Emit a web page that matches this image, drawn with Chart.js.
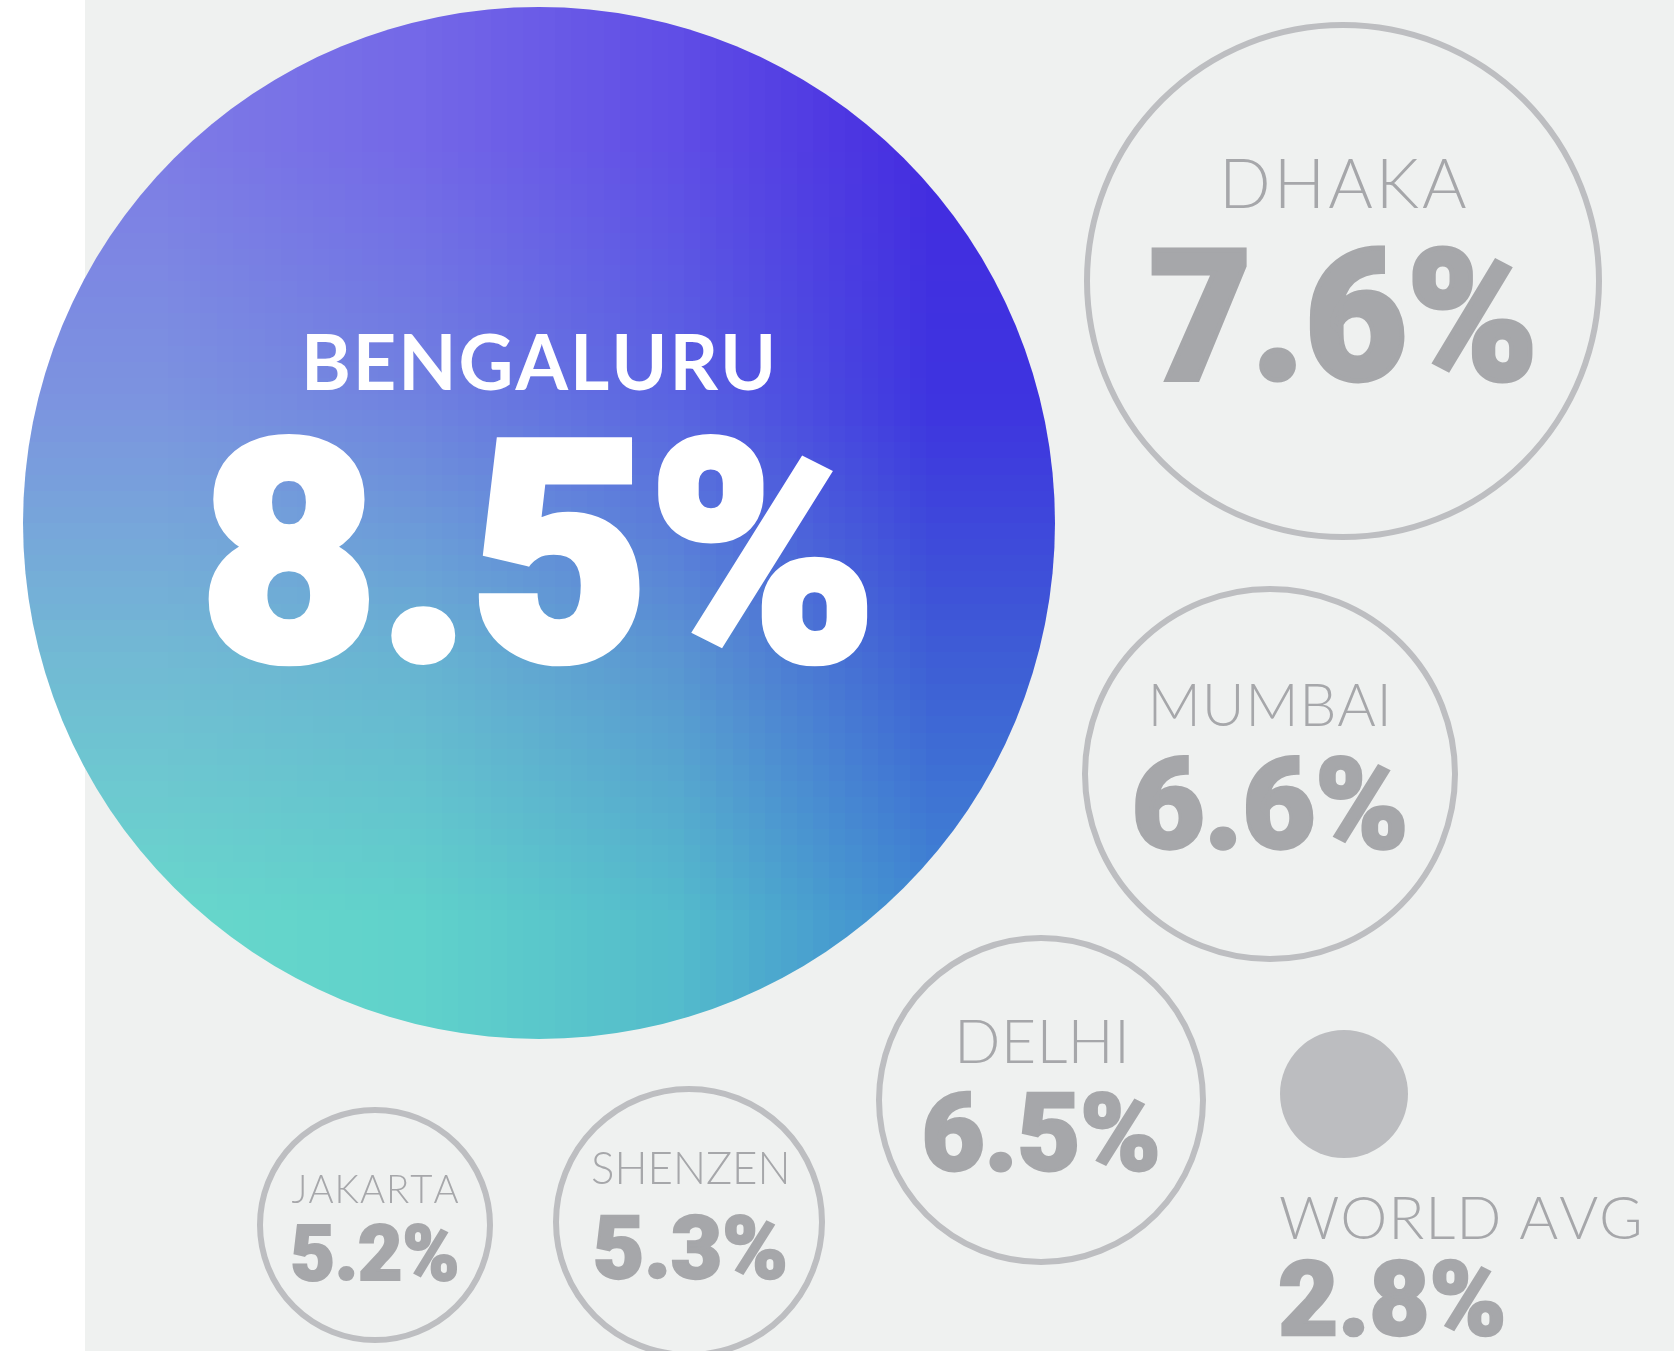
<!DOCTYPE html>
<html>
<head>
<meta charset="utf-8">
<title>Economic growth by city</title>
<script src="https://cdn.jsdelivr.net/npm/chart.js@4.4.1/dist/chart.umd.min.js"></script>
<style>
  html, body { margin: 0; padding: 0; background: #ffffff; }
  canvas { display: block; }
</style>
</head>
<body>
<canvas id="chart" width="1674" height="1351"></canvas>
<script>
// data
const cities = ['BENGALURU', 'DHAKA', 'MUMBAI', 'DELHI', 'SHENZEN', 'JAKARTA', 'WORLD AVG'];
const growth = [8.5, 7.6, 6.6, 6.5, 5.3, 5.2, 2.8];

// layout of the bubbles (infographic placement, in canvas units)
const layoutX = [539, 1343, 1270, 1041, 689, 375, 1344];
const layoutY = [523, 281, 774, 1100, 1222, 1225, 1094];
const layoutR = [516, 256, 185, 162, 133, 115, 64];

// text boxes relative to bubble centre: [dx, dy, width, height]
const labelBox = [
  [0, -162, 464, 56], [3, -98, 240, 49], [0, -69, 233, 43], [1, -58, 164, 44],
  [0, -54, 194, 33], [0, -36, 167, 28], [-64, 125, 359, 44]
];
const valueBox = [
  [-2, 23, 663, 232], [-1, 32, 382, 137], [0, 28, 270, 96], [0, 31, 233, 81],
  [1, 25, 190, 66], [0, 27, 165, 59], [-64, 204, 224, 78]
];

const RING = '#bdbec1';
const TEXT_GREY = '#a6a7aa';
const LABEL_FONT = 'Lato, Inter, "Open Sans", sans-serif';
const VALUE_FONT = 'Roboto, Inter, Lato, sans-serif';
const glowGrid = [
  ['#7e7ce6', '#7468e8', '#604ee6', '#442ce0'],
  ['#7c94e0', '#7082e0', '#5a64e2', '#3e34e0'],
  ['#72bad4', '#68b4d2', '#5a96d2', '#3e5ed6'],
  ['#68d8cc', '#60d2cb', '#54bccc', '#4088d2']
];

let glowPattern = null;
function makeGlow(chart, cx, cy, r) {
  const grid = document.createElement('canvas');
  grid.width = 4; grid.height = 4;
  const g = grid.getContext('2d');
  glowGrid.forEach((row, j) => row.forEach((c, i) => { g.fillStyle = c; g.fillRect(i, j, 1, 1); }));
  const off = document.createElement('canvas');
  off.width = chart.width; off.height = chart.height;
  const o = off.getContext('2d');
  o.imageSmoothingEnabled = true;
  o.imageSmoothingQuality = 'low';
  o.drawImage(grid, cx - r, cy - r, r * 2, r * 2);
  return chart.ctx.createPattern(off, 'no-repeat');
}

function bubbleFill(ctx) {
  const i = ctx.dataIndex;
  if (i === 6) return '#bcbdc0';
  if (i !== 0) return 'rgba(0,0,0,0)';
  const chart = ctx.chart;
  if (!chart.chartArea || !chart.scales.x) return '#6c8ee0';
  if (!glowPattern) {
    const cx = chart.scales.x.getPixelForValue(layoutX[0]);
    const cy = chart.scales.y.getPixelForValue(layoutY[0]);
    glowPattern = makeGlow(chart, cx, cy, layoutR[0]);
  }
  return glowPattern;
}

// draw text char by char so it fills a box of given width / glyph height
// thick > 0 adds an outline of that width to make the glyphs heavier
function fitText(ctx, text, family, weight, color, left, cy, w, h, spaced, thick) {
  const lw = thick || 0;
  const gh = h - lw, gw = w - lw;
  ctx.font = `${weight} 100px ${family}`;
  const m = ctx.measureText(text);
  const size = 100 * gh / (m.actualBoundingBoxAscent + m.actualBoundingBoxDescent);
  ctx.font = `${weight} ${size}px ${family}`;
  const mm = ctx.measureText(text);
  const chars = [...text];
  const widths = chars.map(c => ctx.measureText(c).width);
  const firstL = ctx.measureText(chars[0]).actualBoundingBoxLeft;
  const lastR = ctx.measureText(chars[chars.length - 1]).actualBoundingBoxRight;
  const natural = firstL + widths.slice(0, -1).reduce((s, v) => s + v, 0) + lastR;
  let gap = 0, sx = 1;
  if (spaced && chars.length > 1) gap = (gw - natural) / (chars.length - 1);
  if (!spaced || gap < 0) { gap = 0; sx = gw / natural; }
  const baseY = cy - gh / 2 + mm.actualBoundingBoxAscent;
  ctx.save();
  ctx.fillStyle = color;
  ctx.strokeStyle = color;
  ctx.lineWidth = lw;
  ctx.lineJoin = 'miter';
  ctx.textAlign = 'left';
  ctx.textBaseline = 'alphabetic';
  ctx.translate(left + lw / 2, 0);
  ctx.scale(sx, 1);
  let x = firstL;
  chars.forEach((c, i) => {
    ctx.fillText(c, x, baseY);
    if (lw) ctx.strokeText(c, x, baseY);
    x += widths[i] + gap;
  });
  ctx.restore();
}

const backdrop = {
  id: 'backdrop',
  beforeDraw(chart) {
    const ctx = chart.ctx;
    ctx.save();
    ctx.fillStyle = '#ffffff';
    ctx.fillRect(0, 0, chart.width, chart.height);
    ctx.fillStyle = '#eff1f0';
    ctx.fillRect(85, 0, chart.width - 85, chart.height);
    ctx.restore();
  }
};

const bubbleText = {
  id: 'bubbleText',
  afterDatasetsDraw(chart) {
    const ctx = chart.ctx;
    const pts = chart.getDatasetMeta(0).data;
    pts.forEach((p, i) => {
      const lb = labelBox[i], vb = valueBox[i];
      const leftAligned = i === 6;
      const white = i === 0;
      const lLeft = leftAligned ? p.x + lb[0] : p.x + lb[0] - lb[2] / 2;
      const vLeft = leftAligned ? p.x + vb[0] : p.x + vb[0] - vb[2] / 2;
      fitText(ctx, cities[i], LABEL_FONT, white ? 700 : 300,
        white ? '#ffffff' : TEXT_GREY, lLeft, p.y + lb[1], lb[2], lb[3], true, 0);
      fitText(ctx, growth[i].toFixed(1) + '%', VALUE_FONT, 900,
        white ? '#ffffff' : TEXT_GREY, vLeft, p.y + vb[1], vb[2], vb[3], false, vb[3] * 0.035);
    });
  }
};

new Chart(document.getElementById('chart'), {
  type: 'bubble',
  data: {
    datasets: [{
      label: 'Growth',
      data: cities.map((c, i) => ({ x: layoutX[i], y: layoutY[i], r: layoutR[i] })),
      backgroundColor: bubbleFill,
      borderColor: RING,
      borderWidth: [0, 6, 6, 6, 6, 6, 0],
      clip: false
    }]
  },
  options: {
    responsive: false,
    devicePixelRatio: 1,
    animation: false,
    events: [],
    layout: { padding: 0, autoPadding: false },
    plugins: { legend: { display: false }, tooltip: { enabled: false } },
    scales: {
      x: { type: 'linear', min: 0, max: 1674, display: false },
      y: { type: 'linear', min: 0, max: 1351, reverse: true, display: false }
    }
  },
  plugins: [backdrop, bubbleText]
});
</script>
</body>
</html>
